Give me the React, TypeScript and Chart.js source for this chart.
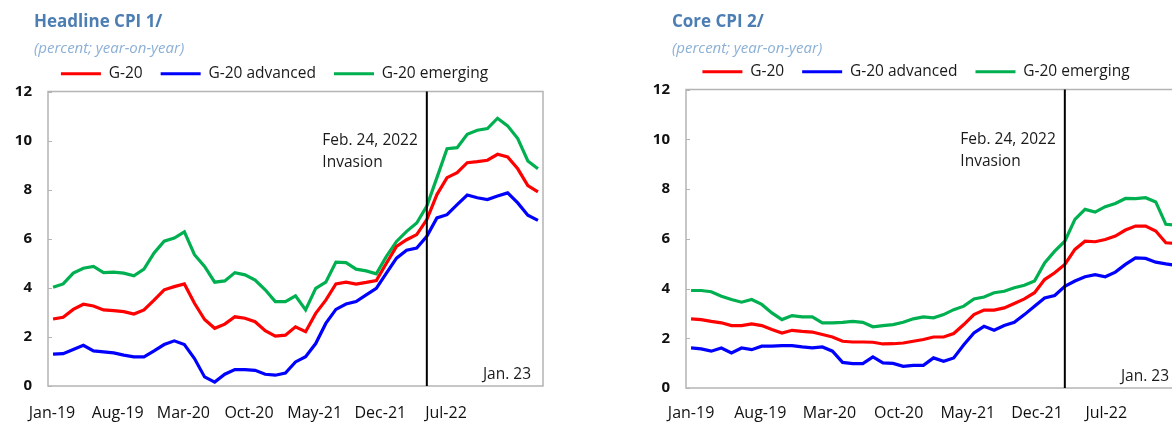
import React, { useEffect, useRef } from "react";
import { Chart, registerables } from "chart.js";

Chart.register(...registerables);

const months = [
  "Jan-19", "Feb-19", "Mar-19", "Apr-19", "May-19", "Jun-19", "Jul-19", "Aug-19", "Sep-19", "Oct-19", "Nov-19", "Dec-19",
  "Jan-20", "Feb-20", "Mar-20", "Apr-20", "May-20", "Jun-20", "Jul-20", "Aug-20", "Sep-20", "Oct-20", "Nov-20", "Dec-20",
  "Jan-21", "Feb-21", "Mar-21", "Apr-21", "May-21", "Jun-21", "Jul-21", "Aug-21", "Sep-21", "Oct-21", "Nov-21", "Dec-21",
  "Jan-22", "Feb-22", "Mar-22", "Apr-22", "May-22", "Jun-22", "Jul-22", "Aug-22", "Sep-22", "Oct-22", "Nov-22", "Dec-22",
  "Jan-23",
];

const xTickLabels = ["Jan-19", "Aug-19", "Mar-20", "Oct-20", "May-21", "Dec-21", "Jul-22"];
const seriesNames = ["G-20", "G-20 advanced", "G-20 emerging"];
const seriesColors = ["#ff0000", "#0000ff", "#00b050"];

const eventMonth = "Feb-22";
const eventText = ["Feb. 24, 2022", "Invasion"];
const lastLabel = "Jan. 23";

// Headline CPI
const headlineG20 = [
  2.73, 2.8, 3.12, 3.33, 3.26, 3.1, 3.07, 3.03, 2.93, 3.1,
  3.5, 3.92, 4.05, 4.16, 3.37, 2.71, 2.35, 2.52, 2.82, 2.76,
  2.62, 2.25, 2.03, 2.07, 2.41, 2.21, 2.96, 3.5, 4.16, 4.23,
  4.15, 4.22, 4.3, 5.0, 5.69, 5.96, 6.17, 6.78, 7.8, 8.49,
  8.69, 9.1, 9.14, 9.2, 9.44, 9.33, 8.85, 8.17, 7.91,
];
const headlineAdvanced = [
  1.3, 1.32, 1.49, 1.66, 1.43, 1.39, 1.35, 1.26, 1.19, 1.19,
  1.43, 1.69, 1.84, 1.69, 1.12, 0.37, 0.16, 0.48, 0.67, 0.67,
  0.64, 0.48, 0.44, 0.53, 0.98, 1.19, 1.73, 2.55, 3.12, 3.34,
  3.44, 3.71, 3.98, 4.6, 5.21, 5.53, 5.62, 6.1, 6.85, 6.98,
  7.39, 7.78, 7.67, 7.6, 7.74, 7.87, 7.46, 6.96, 6.75,
];
const headlineEmerging = [
  4.02, 4.16, 4.6, 4.8, 4.87, 4.62, 4.64, 4.6, 4.49, 4.76,
  5.42, 5.9, 6.03, 6.28, 5.35, 4.87, 4.23, 4.28, 4.62, 4.53,
  4.32, 3.92, 3.44, 3.44, 3.67, 3.1, 3.98, 4.23, 5.05, 5.03,
  4.76, 4.69, 4.57, 5.28, 5.89, 6.3, 6.64, 7.33, 8.49, 9.67,
  9.71, 10.26, 10.42, 10.49, 10.91, 10.6, 10.08, 9.17, 8.85,
];

// Core CPI
const coreG20 = [
  2.78, 2.75, 2.68, 2.62, 2.51, 2.51, 2.58, 2.51, 2.35, 2.21,
  2.32, 2.28, 2.25, 2.15, 2.05, 1.88, 1.85, 1.85, 1.84, 1.77,
  1.78, 1.81, 1.88, 1.95, 2.05, 2.05, 2.19, 2.55, 2.95, 3.13,
  3.13, 3.22, 3.4, 3.58, 3.83, 4.36, 4.63, 4.97, 5.57, 5.9,
  5.88, 5.97, 6.11, 6.35, 6.51, 6.51, 6.31, 5.84, 5.81,
];
const coreAdvanced = [
  1.61, 1.57, 1.48, 1.61, 1.41, 1.61, 1.54, 1.68, 1.68, 1.7,
  1.7, 1.65, 1.61, 1.65, 1.48, 1.03, 0.98, 0.98, 1.25, 1.01,
  0.99, 0.87, 0.91, 0.91, 1.21, 1.07, 1.21, 1.74, 2.21, 2.48,
  2.32, 2.51, 2.64, 2.95, 3.29, 3.62, 3.72, 4.09, 4.3, 4.47,
  4.56, 4.47, 4.66, 4.97, 5.23, 5.21, 5.06, 4.99, 4.93,
];
const coreEmerging = [
  3.92, 3.92, 3.87, 3.69, 3.56, 3.45, 3.56, 3.36, 3.02, 2.75,
  2.91, 2.86, 2.86, 2.62, 2.62, 2.64, 2.68, 2.64, 2.46, 2.51,
  2.55, 2.64, 2.78, 2.86, 2.82, 2.95, 3.15, 3.29, 3.58, 3.66,
  3.83, 3.89, 4.03, 4.13, 4.3, 5.03, 5.5, 5.9, 6.78, 7.18,
  7.07, 7.29, 7.42, 7.62, 7.61, 7.65, 7.48, 6.58, 6.55,
];

const FONT = '"Open Sans", "Noto Sans", sans-serif';

const overlayPlugin = {
  id: "overlay",
  afterDatasetsDraw(chart: any) {
    const { ctx, chartArea, scales } = chart;
    const { left, right, top, bottom } = chartArea;
    const x = scales.x;
    const y = scales.y;
    ctx.save();
    // plot frame
    ctx.strokeStyle = "#b4b4b4";
    ctx.lineWidth = 1.5;
    ctx.strokeRect(left, top, right - left, bottom - top);
    // small inward y tick marks
    ctx.lineWidth = 1;
    y.ticks.forEach((t: any) => {
      const py = Math.round(y.getPixelForValue(t.value)) + 0.5;
      ctx.beginPath();
      ctx.moveTo(left, py);
      ctx.lineTo(left + 4, py);
      ctx.stroke();
    });
    // event line
    const ex = x.getPixelForValue(months.indexOf(eventMonth));
    ctx.strokeStyle = "#000";
    ctx.lineWidth = 2;
    ctx.beginPath();
    ctx.moveTo(ex, top);
    ctx.lineTo(ex, bottom);
    ctx.stroke();
    // event annotation
    ctx.font = `15.5px ${FONT}`;
    ctx.fillStyle = "#1a1a1a";
    ctx.textBaseline = "middle";
    ctx.textAlign = "left";
    const w = ctx.measureText(eventText[0]).width;
    const tx = ex - 9 - w;
    const ty = y.getPixelForValue(10);
    ctx.fillText(eventText[0], tx, ty);
    ctx.fillText(eventText[1], tx, ty + 22);
    // last observation label
    ctx.textAlign = "right";
    ctx.fillText(lastLabel, right - 12, y.getPixelForValue(0.45));
    ctx.restore();
  },
};

type PanelProps = {
  title: string;
  subtitle: string;
  g20: number[];
  adv: number[];
  em: number[];
  canvasLeft: number;
  canvasWidth: number;
  padTop: number;
  yWidth: number;
  xHeight: number;
  xPad: number;
  tickStart: number;
  tickStep: number;
  titleLeft: number;
};

function Panel(p: PanelProps) {
  const ref = useRef<HTMLCanvasElement>(null);
  useEffect(() => {
    const tickPos = xTickLabels.map((_, k) => p.tickStart + k * p.tickStep);
    const values = [p.g20, p.adv, p.em];
    const chart = new Chart(ref.current as HTMLCanvasElement, {
      type: "line",
      data: {
        labels: months,
        datasets: values.map((d, i) => ({
          label: seriesNames[i],
          data: d,
          borderColor: seriesColors[i],
          backgroundColor: seriesColors[i],
          borderWidth: 3.2,
          pointRadius: 0,
          tension: 0,
          xAxisID: "x",
          yAxisID: "y",
        })),
      },
      options: {
        animation: false,
        responsive: false,
        devicePixelRatio: 1,
        layout: { padding: { left: 6, right: 6, top: p.padTop, bottom: 0 } },
        scales: {
          x: { type: "category", display: false, offset: true },
          x2: {
            type: "linear",
            position: "bottom",
            min: -0.5,
            max: months.length - 0.5,
            grid: { display: false, drawTicks: false },
            border: { display: false },
            afterBuildTicks: (s: any) => {
              s.ticks = tickPos.map((v) => ({ value: v }));
            },
            afterFit: (s: any) => {
              s.height = p.xHeight;
            },
            ticks: {
              autoSkip: false,
              maxRotation: 0,
              padding: p.xPad,
              color: "#111",
              font: { family: FONT, size: 16 },
              callback: (_v: any, i: number) => xTickLabels[i],
            },
          },
          y: {
            min: 0,
            max: 12,
            grid: { display: false, drawTicks: false },
            border: { display: false },
            afterFit: (s: any) => {
              s.width = p.yWidth;
            },
            ticks: {
              stepSize: 2,
              padding: 16,
              color: "#111",
              font: { family: FONT, size: 15, weight: "bold" },
            },
          },
        },
        plugins: {
          legend: {
            position: "top",
            labels: {
              boxWidth: 40,
              boxHeight: 0,
              padding: 18,
              color: "#1a1a1a",
              font: { family: FONT, size: 15.5 },
            },
          },
          tooltip: { enabled: false },
        },
      } as any,
      plugins: [overlayPlugin],
    });
    return () => chart.destroy();
  }, []);
  return (
    <>
      <canvas
        ref={ref}
        width={p.canvasWidth}
        height={423}
        style={{ position: "absolute", left: p.canvasLeft, top: 0, width: p.canvasWidth, height: 423 }}
      />
      <div
        style={{
          position: "absolute",
          left: p.titleLeft,
          top: 10,
          fontFamily: FONT,
          fontWeight: 700,
          fontSize: 17,
          lineHeight: "22px",
          color: "#4c7db3",
          whiteSpace: "nowrap",
        }}
      >
        {p.title}
      </div>
      <div
        style={{
          position: "absolute",
          left: p.titleLeft,
          top: 37,
          fontFamily: FONT,
          fontStyle: "italic",
          fontSize: 15,
          lineHeight: "20px",
          color: "#8cb0d6",
          whiteSpace: "nowrap",
        }}
      >
        {p.subtitle}
      </div>
    </>
  );
}

export default function App() {
  return (
    <div
      style={{
        position: "fixed",
        left: 0,
        top: 0,
        width: 1172,
        height: 423,
        overflow: "hidden",
        background: "#fff",
      }}
    >
      <Panel
        title="Headline CPI 1/"
        subtitle="(percent; year-on-year)"
        g20={headlineG20}
        adv={headlineAdvanced}
        em={headlineEmerging}
        canvasLeft={0}
        canvasWidth={549}
        padTop={48}
        yWidth={42}
        xHeight={37}
        xPad={17.5}
        tickStart={-0.1}
        tickStep={6.5}
        titleLeft={34}
      />
      <Panel
        title="Core CPI 2/"
        subtitle="(percent; year-on-year)"
        g20={coreG20}
        adv={coreAdvanced}
        em={coreEmerging}
        canvasLeft={645}
        canvasWidth={542}
        padTop={46}
        yWidth={35}
        xHeight={35}
        xPad={15.5}
        tickStart={0}
        tickStep={6.85}
        titleLeft={672}
      />
    </div>
  );
}
